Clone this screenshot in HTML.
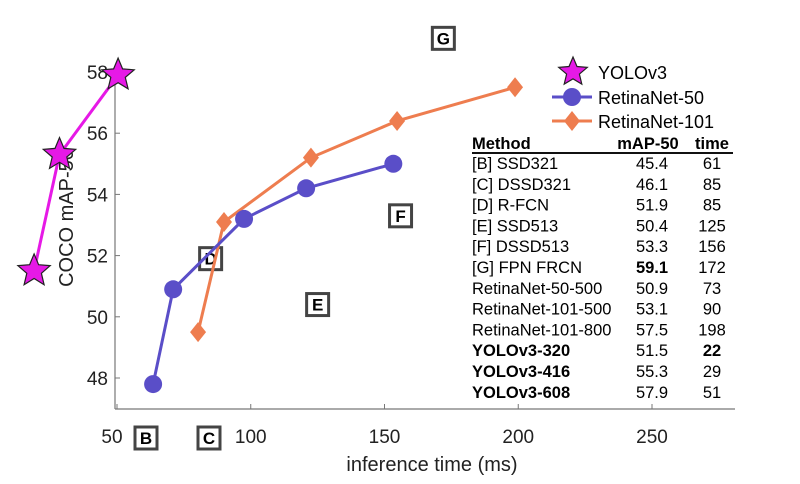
<!DOCTYPE html>
<html><head><meta charset="utf-8"><style>
body{margin:0;background:#fff;font-family:"Liberation Sans",sans-serif}
svg text{font-family:"Liberation Sans",sans-serif}
</style></head><body>
<svg id="c" width="800" height="479" viewBox="0 0 800 479">
<g id="axes"></g>
<g id="marks"></g>
<g id="table"></g>
</svg>
<script>
const xTicks=[50,100,150,200,250];
const yTicks=[48,50,52,54,56,58];
const yoloT=[19,28.5,50.4];
const yoloM=[51.5,55.3,57.9];
const r50T=[63.5,71,97.5,120.7,153.3];
const r50M=[47.8,50.9,53.2,54.2,55.0];
const r101T=[80.3,90,122.5,154.7,198.8];
const r101M=[49.5,53.1,55.2,56.4,57.5];
const boxLabels=['B','C','D','E','F','G'];
const boxT=[61,85,85,125,156,172];
const boxM=[46.1,46.1,51.9,50.4,53.3,59.1];
const rowsName=['[B] SSD321','[C] DSSD321','[D] R-FCN','[E] SSD513','[F] DSSD513','[G] FPN FRCN','RetinaNet-50-500','RetinaNet-101-500','RetinaNet-101-800','YOLOv3-320','YOLOv3-416','YOLOv3-608'];
const rowsMap=['45.4','46.1','51.9','50.4','53.3','59.1','50.9','53.1','57.5','51.5','55.3','57.9'];
const rowsTime=['61','85','85','125','156','172','73','90','198','22','29','51'];
const X=t=>117+(t-50)*2.675, Y=v=>378-(v-48)*30.6;
const NS='http://www.w3.org/2000/svg';
function mk(tag,a,p,txt){const e=document.createElementNS(NS,tag);for(const k in a)e.setAttribute(k,a[k]);if(txt!=null)e.textContent=txt;p.appendChild(e);return e;}
const ax=document.getElementById('axes'),mg=document.getElementById('marks'),tb=document.getElementById('table');
let e=mk('line',{x1:115,y1:82,x2:115,y2:409,stroke:'#777','stroke-width':1.2},ax);

e=mk('line',{x1:115,y1:409,x2:735,y2:409,stroke:'#777','stroke-width':1.2},ax);

xTicks.forEach(t=>{mk('line',{x1:X(t),y1:409,x2:X(t),y2:404,stroke:'#777'},ax);
 const l=mk('text',{x:X(t)+(t==50?-5:0),y:443,'font-size':19,'text-anchor':'middle',fill:'#222'},ax,t);
 });
yTicks.forEach(v=>{mk('line',{x1:115,y1:Y(v),x2:120,y2:Y(v),stroke:'#777'},ax);
 const l=mk('text',{x:108,y:Y(v)+7,'font-size':19,'text-anchor':'end',fill:'#222'},ax,v);
 });
e=mk('text',{x:432,y:471,'font-size':20,'text-anchor':'middle',fill:'#222'},ax,'inference time (ms)');

e=mk('text',{x:0,y:0,'font-size':20,'text-anchor':'middle',fill:'#222',transform:'translate(73,218) rotate(-90)'},ax,'COCO mAP-50');

boxLabels.forEach((b,i)=>{let x=X(boxT[i]),y=Y(boxM[i]);
 if(i<2)y=438; if(i==0)x=146; if(i==1)x=209;
 const g=mk('g',{},mg);
 mk('rect',{x:x-11,y:y-11,width:22,height:22,fill:'#fff',stroke:'#444','stroke-width':3},g);
 mk('text',{x:x,y:y+6,'font-size':17,'font-weight':'bold','text-anchor':'middle'},g,b);});
function star(cx,cy,r,p){let pts=[];for(let i=0;i<10;i++){const a=-Math.PI/2+i*Math.PI/5,rr=i%2?r*0.45:r;pts.push((cx+rr*Math.cos(a)).toFixed(1)+','+(cy+rr*Math.sin(a)).toFixed(1));}
 return mk('polygon',{points:pts.join(' '),fill:'#e619e6',stroke:'#222','stroke-width':1.2},p);}
function series(T,M,col,name,mark){const g=mk('g',{},mg);
 mk('polyline',{points:T.map((t,i)=>X(t)+','+Y(M[i])).join(' '),fill:'none',stroke:col,'stroke-width':3},g);
 T.forEach((t,i)=>{const m=mark(X(t),Y(M[i]),g);});}
series(r101T,r101M,'#ee7d4f','retinanet-101-series',(x,y,g)=>mk('polygon',{points:`${x},${y-10} ${x+8},${y} ${x},${y+10} ${x-8},${y}`,fill:'#ee7d4f'},g));
series(r50T,r50M,'#5a4ec8','retinanet-50-series',(x,y,g)=>mk('circle',{cx:x,cy:y,r:9,fill:'#5a4ec8'},g));
series(yoloT,yoloM,'#e619e6','yolov3-series',(x,y,g)=>star(x,y,17,g));
const lg=mk('g',{},mg);
star(573,72,15,lg);mk('text',{x:598,y:79,'font-size':18},lg,'YOLOv3');
mk('line',{x1:552,y1:97,x2:592,y2:97,stroke:'#5a4ec8','stroke-width':3},lg);mk('circle',{cx:572,cy:97,r:9,fill:'#5a4ec8'},lg);
mk('text',{x:598,y:104,'font-size':18},lg,'RetinaNet-50');
mk('line',{x1:552,y1:121,x2:592,y2:121,stroke:'#ee7d4f','stroke-width':3},lg);mk('polygon',{points:'572,111 580,121 572,131 564,121',fill:'#ee7d4f'},lg);
mk('text',{x:598,y:128,'font-size':18},lg,'RetinaNet-101');
mk('text',{x:472,y:149,'font-size':16.5,'font-weight':'bold'},tb,'Method');
mk('text',{x:648,y:149,'font-size':16.5,'font-weight':'bold','text-anchor':'middle'},tb,'mAP-50');
mk('text',{x:712,y:149,'font-size':16.5,'font-weight':'bold','text-anchor':'middle'},tb,'time');
mk('line',{x1:472,y1:153,x2:733,y2:153,stroke:'#111','stroke-width':2},tb);
rowsName.forEach((n,i)=>{const y=169+i*20.8,bold=i>=9;
 const r=mk('g',{},tb);
 mk('text',{x:472,y:y,'font-size':16.5,'font-weight':bold?'bold':'normal'},r,n);
 mk('text',{x:652,y:y,'font-size':16.5,'text-anchor':'middle','font-weight':i==5?'bold':'normal'},r,rowsMap[i]);
 mk('text',{x:712,y:y,'font-size':16.5,'text-anchor':'middle','font-weight':i==9?'bold':'normal'},r,rowsTime[i]);});
</script>
</body></html>
